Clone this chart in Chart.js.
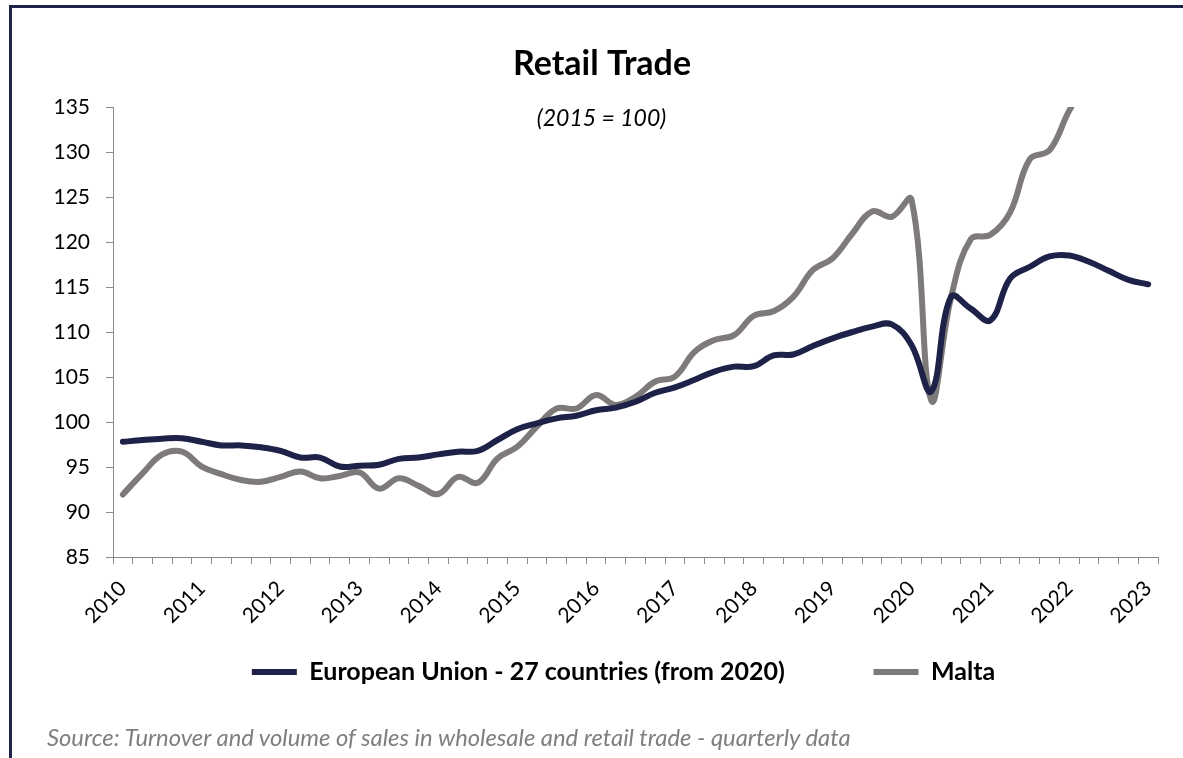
<!DOCTYPE html>
<html>
<head>
<meta charset="utf-8">
<script src="https://cdn.jsdelivr.net/npm/chart.js@4.4.1/dist/chart.umd.min.js"></script>
<style>
html,body{margin:0;padding:0;background:#fff;width:1183px;height:758px;overflow:hidden;}
#wrap{position:relative;width:1183px;height:758px;}
#frame{position:absolute;left:9px;top:5px;right:-5px;bottom:-5px;border-top:3px solid #1f2347;border-left:3px solid #1f2347;}
#c{position:absolute;left:0;top:0;}
#sub{position:absolute;left:0;width:1203px;text-align:center;top:103px;line-height:28px;font-family:Lato;font-style:italic;font-size:23px;color:#000;}
#src{position:absolute;left:47px;top:723px;line-height:28px;font-family:Lato;font-style:italic;font-size:23.8px;color:#7f7f7f;white-space:nowrap;}
</style>
</head>
<body>
<div id="wrap">
  <div id="frame"></div>
  <canvas id="c" width="1183" height="758"></canvas>
  <div id="sub">(2015 = 100)</div>
  <div id="src">Source: Turnover and volume of sales in wholesale and retail trade - quarterly data</div>
</div>
<script>
const quarters = [
  '2010-Q1','2010-Q2','2010-Q3','2010-Q4',
  '2011-Q1','2011-Q2','2011-Q3','2011-Q4',
  '2012-Q1','2012-Q2','2012-Q3','2012-Q4',
  '2013-Q1','2013-Q2','2013-Q3','2013-Q4',
  '2014-Q1','2014-Q2','2014-Q3','2014-Q4',
  '2015-Q1','2015-Q2','2015-Q3','2015-Q4',
  '2016-Q1','2016-Q2','2016-Q3','2016-Q4',
  '2017-Q1','2017-Q2','2017-Q3','2017-Q4',
  '2018-Q1','2018-Q2','2018-Q3','2018-Q4',
  '2019-Q1','2019-Q2','2019-Q3','2019-Q4',
  '2020-Q1','2020-Q2','2020-Q3','2020-Q4',
  '2021-Q1','2021-Q2','2021-Q3','2021-Q4',
  '2022-Q1','2022-Q2','2022-Q3','2022-Q4',
  '2023-Q1'
];
const yearLabels = ['2010','2011','2012','2013','2014','2015','2016','2017','2018','2019','2020','2021','2022','2023'];

const euValues = [
  97.8, 98.0, 98.15, 98.2,
  97.8, 97.4, 97.4, 97.2,
  96.8, 96.05, 96.05, 95.05,
  95.15, 95.25, 95.9, 96.05,
  96.4, 96.7, 96.8, 98.0,
  99.2, 99.85, 100.4, 100.7,
  101.3, 101.6, 102.25, 103.25,
  103.85, 104.7, 105.6, 106.15,
  106.2, 107.4, 107.5, 108.45,
  109.3, 110.0, 110.6, 110.85,
  108.55, 103.4, 113.9, 112.6,
  111.3, 115.95, 117.25, 118.4,
  118.5, 117.8, 116.8, 115.8,
  115.3
];
const maltaValues = [
  91.95, 94.3, 96.4, 96.7,
  95.05, 94.2, 93.55, 93.35,
  93.9, 94.5, 93.75, 94.0,
  94.4, 92.6, 93.75, 92.9,
  92.0, 93.9, 93.25, 95.95,
  97.25, 99.5, 101.5, 101.5,
  103.0, 101.9, 102.8, 104.5,
  105.05, 107.8, 109.1, 109.65,
  111.8, 112.3, 113.9, 116.9,
  118.2, 120.95, 123.4, 122.8,
  124.7, 102.4, 113.8, 120.3,
  120.8, 123.3, 129.2, 130.2,
  134.6, 138.0, 139.5, 140.5,
  141.0
];
const seriesNames = ['European Union - 27 countries (from 2020)', 'Malta'];
const seriesColors = ['#1e2249', '#7d7a79'];
const yMin = 85, yMax = 135, yStep = 5;

const axisColor = '#8a8a8a';

// shifts the centred title / legend boxes to where the reference places them
const boxShift = {
  id: 'boxShift',
  afterLayout(chart) {
    if (chart.titleBlock) { chart.titleBlock.left += 18; chart.titleBlock.right += 18; }
    if (chart.legend) { chart.legend.left -= 12; chart.legend.right -= 12; }
  }
};

new Chart(document.getElementById('c'), {
  type: 'line',
  data: {
    labels: quarters,
    datasets: [
      {label: seriesNames[0], data: euValues, borderColor: seriesColors[0], backgroundColor: seriesColors[0],
       borderWidth: 6, pointRadius: 0, tension: 0.4, borderCapStyle: 'round', borderJoinStyle: 'round', fill: false},
      {label: seriesNames[1], data: maltaValues, borderColor: seriesColors[1], backgroundColor: seriesColors[1],
       borderWidth: 6, pointRadius: 0, tension: 0.4, borderCapStyle: 'round', borderJoinStyle: 'round', fill: false}
    ]
  },
  plugins: [boxShift],
  options: {
    responsive: false,
    animation: false,
    layout: {padding: {left: 10, right: 25, top: 28, bottom: 63.5}},
    plugins: {
      title: {
        display: true, text: 'Retail Trade', color: '#000',
        font: {family: 'Lato', size: 34, weight: 'bold'},
        padding: {top: 16, bottom: 22.2}
      },
      legend: {
        position: 'bottom', fullSize: false,
        labels: {
          usePointStyle: true, pointStyle: 'line', pointStyleWidth: 45,
          padding: 88.5, color: '#000',
          font: {family: 'Lato', size: 25, weight: 'bold'}
        }
      },
      tooltip: {enabled: false}
    },
    scales: {
      x: {
        type: 'category', offset: true,
        grid: {offset: true, drawOnChartArea: false, drawTicks: true, tickLength: 7, color: axisColor, lineWidth: 1},
        border: {display: true, color: axisColor, width: 1},
        ticks: {
          autoSkip: false, maxRotation: 45, minRotation: 45, padding: 12, color: '#000',
          font: {family: 'Lato', size: 21},
          callback: (v, i) => (i % 4 === 0 ? yearLabels[i / 4] : '')
        },
        afterFit: s => {
          s.height = 14;
          s._computeLabelArea = function () {
            return {top: this.top, left: 0, bottom: this.chart.height, right: this.chart.width};
          };
        }
      },
      y: {
        min: yMin, max: yMax,
        ticks: {stepSize: yStep, padding: 16, color: '#000', font: {family: 'Lato', size: 21}},
        grid: {drawOnChartArea: false, drawTicks: true, tickLength: 7, color: axisColor, lineWidth: 1},
        border: {display: true, color: axisColor, width: 1},
        afterFit: s => { s.width = 103; }
      }
    }
  }
});
</script>
</body>
</html>
